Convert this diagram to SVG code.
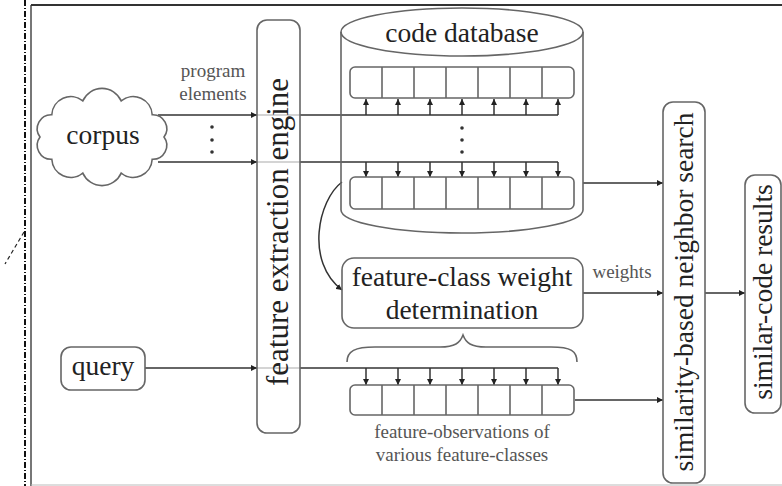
<svg xmlns="http://www.w3.org/2000/svg" width="782" height="486" viewBox="0 0 782 486">
<defs>
<marker id="ah" viewBox="0 0 6 6" refX="6" refY="3" markerWidth="6" markerHeight="6" markerUnits="userSpaceOnUse" orient="auto">
<path d="M0,0 L6,3 L0,6 z" fill="#222"/>
</marker>
<style>
.box{fill:#fff;stroke:#666;stroke-width:1.6}
.nofill{fill:none;stroke:#666;stroke-width:1.6}
.ln{fill:none;stroke:#333;stroke-width:1.5}
.lnf{fill:none;stroke:#aaa;stroke-width:1.2}
.arr{fill:none;stroke:#333;stroke-width:1.5;marker-end:url(#ah)}
.big{font-family:'Liberation Serif','DejaVu Serif','Times New Roman',serif;font-size:27.5px;fill:#222;text-anchor:middle}
.sm{font-family:'Liberation Serif','DejaVu Serif','Times New Roman',serif;font-size:19px;fill:#555;text-anchor:middle}
.dot{fill:#333}
</style>
</defs>
<rect width="782" height="486" fill="#fff"/>
<g id="frame">
<line x1="25" y1="0" x2="25" y2="486" stroke="#111" stroke-width="2" stroke-dasharray="6,2,1,2"/>
<line x1="24" y1="232" x2="5" y2="264" stroke="#222" stroke-width="1.2" stroke-dasharray="4,3"/>
<line x1="31" y1="5" x2="31" y2="486" stroke="#777" stroke-width="2"/>
<line x1="31" y1="5" x2="782" y2="5" stroke="#333" stroke-width="2"/>
<line x1="31" y1="485" x2="782" y2="485" stroke="#bbb" stroke-width="1"/>
</g>
<g id="connectors">
<line class="arr" x1="158" y1="115" x2="257" y2="115"/>
<line class="arr" x1="158" y1="162" x2="257" y2="162"/>
<line class="arr" x1="145" y1="368" x2="257" y2="368"/>
<line class="lnf" x1="257" y1="115" x2="300" y2="115"/>
<line class="lnf" x1="257" y1="162" x2="300" y2="162"/>
<line class="lnf" x1="257" y1="368" x2="300" y2="368"/>
<polyline class="ln" points="300,115 558,115"/>
<polyline class="ln" points="300,162 558,162"/>
<polyline class="ln" points="300,368 558,368"/>
<g id="up-arrows">
<line class="arr" x1="366" y1="115" x2="366" y2="99"/>
<line class="arr" x1="398" y1="115" x2="398" y2="99"/>
<line class="arr" x1="430" y1="115" x2="430" y2="99"/>
<line class="arr" x1="462" y1="115" x2="462" y2="99"/>
<line class="arr" x1="494" y1="115" x2="494" y2="99"/>
<line class="arr" x1="526" y1="115" x2="526" y2="99"/>
<line class="arr" x1="558" y1="115" x2="558" y2="99"/>
</g>
<g id="down-arrows-db">
<line class="arr" x1="366" y1="162" x2="366" y2="177"/>
<line class="arr" x1="398" y1="162" x2="398" y2="177"/>
<line class="arr" x1="430" y1="162" x2="430" y2="177"/>
<line class="arr" x1="462" y1="162" x2="462" y2="177"/>
<line class="arr" x1="494" y1="162" x2="494" y2="177"/>
<line class="arr" x1="526" y1="162" x2="526" y2="177"/>
<line class="arr" x1="558" y1="162" x2="558" y2="177"/>
</g>
<g id="down-arrows-query">
<line class="arr" x1="366" y1="368" x2="366" y2="385"/>
<line class="arr" x1="398" y1="368" x2="398" y2="385"/>
<line class="arr" x1="430" y1="368" x2="430" y2="385"/>
<line class="arr" x1="462" y1="368" x2="462" y2="385"/>
<line class="arr" x1="494" y1="368" x2="494" y2="385"/>
<line class="arr" x1="526" y1="368" x2="526" y2="385"/>
<line class="arr" x1="558" y1="368" x2="558" y2="385"/>
</g>
<path class="arr" d="M342,182 C318,200 305,262 342,290"/>
<line class="arr" x1="583" y1="183" x2="663" y2="183"/>
<line class="arr" x1="583" y1="293" x2="663" y2="293"/>
<line class="arr" x1="575" y1="400" x2="663" y2="400"/>
<line class="arr" x1="705" y1="293" x2="745" y2="293"/>
<text class="sm" x="622" y="278">weights</text>
<text class="sm" x="213" y="77">program</text>
<text class="sm" x="213" y="100">elements</text>
<circle class="dot" cx="212" cy="127" r="1.8"/>
<circle class="dot" cx="212" cy="140" r="1.8"/>
<circle class="dot" cx="212" cy="152" r="1.8"/>
<circle class="dot" cx="462" cy="128" r="1.8"/>
<circle class="dot" cx="462" cy="140" r="1.8"/>
<circle class="dot" cx="462" cy="152" r="1.8"/>
</g>
<g id="corpus">
<path class="box" d="M164,137 A14,14 0 0 1 152.2,159.3 A19,19 0 0 1 121.2,173.1 A21,21 0 0 1 82.8,173.1 A19,19 0 0 1 51.8,159.3 A14,14 0 0 1 40,137 A14,14 0 0 1 51.8,114.7 A19,19 0 0 1 82.8,100.9 A21,21 0 0 1 121.2,100.9 A19,19 0 0 1 152.2,114.7 A14,14 0 0 1 164,137 Z"/>
<text class="big" x="103" y="144">corpus</text>
</g>
<g id="query">
<rect class="box" x="61" y="347" width="84" height="43" rx="10"/>
<text class="big" x="103" y="375">query</text>
</g>
<g id="engine">
<rect class="nofill" x="257" y="20" width="43" height="413" rx="10"/>
<text class="big" style="font-size:31px" transform="translate(278,232) rotate(-90)" x="0" y="10">feature extraction engine</text>
</g>
<g id="code-database">
<path class="nofill" d="M341,32 L341,210 A121,23 0 0 0 583,210 L583,32"/>
<ellipse class="nofill" cx="462" cy="32" rx="121" ry="24"/>
<text class="big" x="462" y="42">code database</text>
<g id="db-array-top">
<rect class="nofill" x="350" y="67" width="224" height="31" rx="5"/>
<path class="nofill" d="M382,67V98M414,67V98M446,67V98M478,67V98M510,67V98M542,67V98"/>
</g>
<g id="db-array-bottom">
<rect class="nofill" x="350" y="177" width="224" height="32" rx="5"/>
<path class="nofill" d="M382,177V209M414,177V209M446,177V209M478,177V209M510,177V209M542,177V209"/>
</g>
</g>
<g id="weight-determination">
<rect class="nofill" x="342" y="258" width="241" height="70" rx="12"/>
<text class="big" x="462" y="286">feature-class weight</text>
<text class="big" x="462" y="319">determination</text>
</g>
<g id="brace">
<path class="nofill" d="M347,362 C347,351 355,347 375,347 L440,347 C455,347 460,343 463,335 C466,343 471,347 486,347 L551,347 C571,347 577,351 577,362"/>
</g>
<g id="observations">
<rect class="nofill" x="350" y="385" width="224" height="30" rx="5"/>
<path class="nofill" d="M382,385V415M414,385V415M446,385V415M478,385V415M510,385V415M542,385V415"/>
<text class="sm" x="462" y="438">feature-observations of</text>
<text class="sm" x="462" y="461">various feature-classes</text>
</g>
<g id="similarity-search">
<rect class="nofill" x="663" y="102" width="42" height="381" rx="10"/>
<text class="big" transform="translate(684,292) rotate(-90)" x="0" y="9">similarity-based neighbor search</text>
</g>
<g id="results">
<rect class="nofill" x="745" y="175" width="36" height="238" rx="10"/>
<text class="big" transform="translate(763,292) rotate(-90)" x="0" y="9">similar-code results</text>
</g>
</svg>
